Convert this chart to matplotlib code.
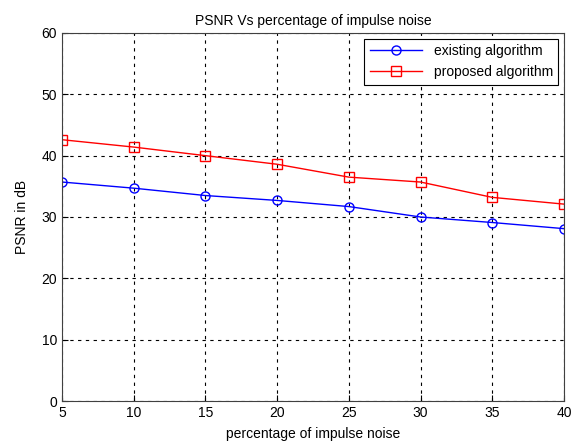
import matplotlib
matplotlib.use("Agg")
import matplotlib.pyplot as plt

plt.rcParams["font.family"] = ["Liberation Sans", "DejaVu Sans"]

noise = [5, 10, 15, 20, 25, 30, 35, 40]
existing = [35.7, 34.7, 33.5, 32.7, 31.7, 30.0, 29.1, 28.1]
proposed = [42.6, 41.4, 40.0, 38.6, 36.5, 35.7, 33.2, 32.1]

fig = plt.figure(figsize=(5.82, 4.41), dpi=100)
ax = fig.add_axes([0.1065, 0.0907, 0.8625, 0.8345])

ax.plot(noise, existing, color="blue", marker="o", markersize=6.5,
        markerfacecolor="none", linewidth=1, label="existing algorithm")
ax.plot(noise, proposed, color="red", marker="s", markersize=6.5,
        markerfacecolor="none", linewidth=1, label="proposed algorithm")

ax.set_xlim(5, 40)
ax.set_ylim(0, 60)
ax.set_xticks(noise)
ax.set_yticks(range(0, 61, 10))
ax.grid(True, color="black", linestyle=(0, (3, 4)), linewidth=0.8)
ax.tick_params(direction="in", labelsize=10, length=4)
for s in ax.spines.values():
    s.set_color("#404040")

ax.set_title("PSNR Vs percentage of impulse noise", fontsize=10)
ax.set_xlabel("percentage of impulse noise", fontsize=10, labelpad=5)
ax.set_ylabel("PSNR in dB", fontsize=10, labelpad=9)

leg = ax.legend(loc="upper right", fontsize=10, fancybox=False,
                framealpha=1, edgecolor="black", borderaxespad=0.4,
                handlelength=3.8)
leg.get_frame().set_linewidth(0.8)

fig.savefig("out.png", dpi=100)
